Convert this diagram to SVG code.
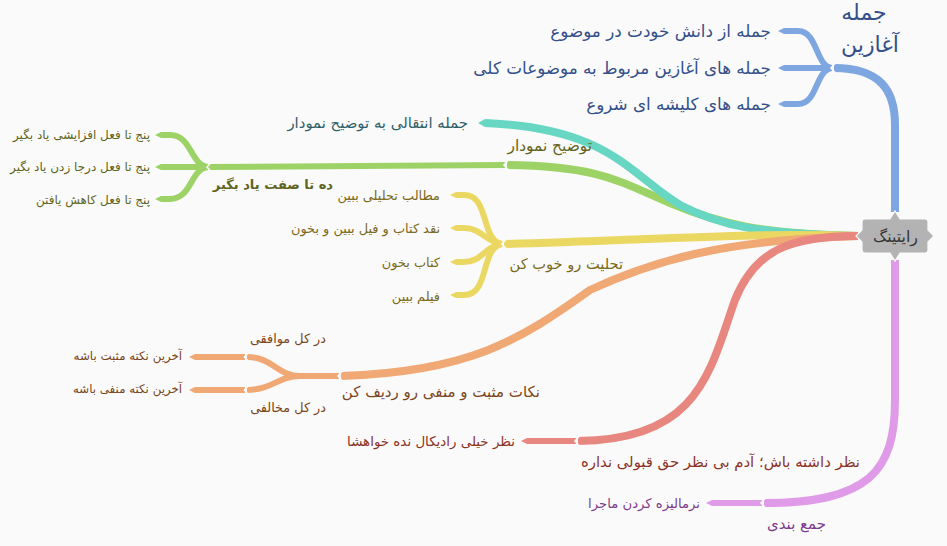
<svg xmlns="http://www.w3.org/2000/svg" width="947" height="546" viewBox="0 0 947 546">
<style>
.t{font-family:"DejaVu Sans",sans-serif}
.e{text-anchor:end}
.m{text-anchor:middle}
.br{fill:none;stroke-linecap:butt}
.w1{stroke-width:8}
.w2{stroke-width:6}
.n{fill:none;stroke:#fafafa;stroke-width:1.6}
.cb{stroke:#7ea6e0}.fb{fill:#7ea6e0}
.ct{stroke:#67d6c2}.ft{fill:#67d6c2}
.cg{stroke:#9dd366}.fg{fill:#9dd366}
.cy{stroke:#ebd862}.fy{fill:#ebd862}
.co{stroke:#f0a874}.fo{fill:#f0a874}
.cr{stroke:#e8877f}.fr{fill:#e8877f}
.cp{stroke:#e09be8}.fp{fill:#e09be8}
.tb{fill:#34508a}.tt{fill:#2e5f68}.tg{fill:#5f6420}.ty{fill:#7a6a1c}.to{fill:#7a4620}.tr{fill:#8a3226}.tp{fill:#7b3a8c}
</style>
<rect width="947" height="546" fill="#fafafa"/>
<g id="connectors">
  <!-- blue -->
  <path class="br w1 cb" d="M895 212 L895 125 C895 90 880 68 834 68"/>
  <path class="br w2 cb" d="M832 68 C815 66 818 31 798 31 L784 31"/>
  <path class="br w2 cb" d="M832 68 L784 68"/>
  <path class="br w2 cb" d="M832 68 C815 70 818 104 798 104 L784 104"/>
  <polygon class="fb" points="784,28 778,31 784,34"/>
  <polygon class="fb" points="784,65 778,68 784,71"/>
  <polygon class="fb" points="784,101 778,104 784,107"/>
  <path class="n" d="M835 63.5 L831 68 L835 72.5"/>
  <!-- green -->
  <path class="br w1 cg" d="M858 236 C760 234 720 224 670 203 C620 182 600 166 507 165"/>
  <path class="br w2 cg" d="M505 165 L208 167"/>
  <path class="br w2 cg" d="M208 167 C190 165 192 135 170 135 L161 135"/>
  <path class="br w2 cg" d="M208 167 L161 167"/>
  <path class="br w2 cg" d="M208 167 C190 169 192 199 170 199 L161 199"/>
  <polygon class="fg" points="161,132 155,135 161,138"/>
  <polygon class="fg" points="161,164 155,167 161,170"/>
  <polygon class="fg" points="161,196 155,199 161,202"/>
  <path class="n" d="M508 160.5 L504 165 L508 169.5"/>
  <path class="n" d="M211 162.5 L207 167 L211 171.5"/>
  <!-- teal -->
  <path class="br w1 ct" d="M858 236 C760 234 720 226 680 205 C630 175 610 128 485 123"/>
  <polygon class="ft" points="485,119 478,123 485,127"/>
  <!-- yellow -->
  <path class="br w1 cy" d="M858 236 C760 232 650 240 504 244"/>
  <path class="br w2 cy" d="M502 244 C480 240 490 195 464 195 L456 195"/>
  <path class="br w2 cy" d="M502 244 C485 242 482 228 464 228 L456 228"/>
  <path class="br w2 cy" d="M502 244 C485 246 482 262 464 262 L456 262"/>
  <path class="br w2 cy" d="M502 244 C480 248 490 295 464 295 L456 295"/>
  <polygon class="fy" points="456,192 450,195 456,198"/>
  <polygon class="fy" points="456,225 450,228 456,231"/>
  <polygon class="fy" points="456,259 450,262 456,265"/>
  <polygon class="fy" points="456,292 450,295 456,298"/>
  <path class="n" d="M506 239.5 L502 244 L506 248.5"/>
  <!-- orange -->
  <path class="br w1 co" d="M858 236 C720 240 650 262 590 290 C520 340 470 372 341 376"/>
  <path class="br w2 co" d="M339 376 L300 376 C278 376 272 357 247 357"/>
  <path class="br w2 co" d="M300 376 C278 376 272 390 247 390"/>
  <path class="br w2 co" d="M245 357 L195 357"/>
  <path class="br w2 co" d="M245 390 L195 390"/>
  <polygon class="fo" points="195,354 189,357 195,360"/>
  <polygon class="fo" points="195,387 189,390 195,393"/>
  <path class="n" d="M342 371.5 L338 376 L342 380.5"/>
  <path class="n" d="M248 353 L244.5 357 L248 361"/>
  <path class="n" d="M248 386 L244.5 390 L248 394"/>
  <!-- red -->
  <path class="br w1 cr" d="M858 236 C790 236 755 250 735 300 C710 370 700 440 578 441"/>
  <path class="br w2 cr" d="M576 441 L527 441"/>
  <polygon class="fr" points="527,438 521,441 527,444"/>
  <path class="n" d="M579 436.5 L575 441 L579 445.5"/>
  <!-- purple -->
  <path class="br w1 cp" d="M895 260 L895 400 C895 470 870 503 764 503"/>
  <path class="br w2 cp" d="M762 503 L712 503"/>
  <polygon class="fp" points="712,500 706,503 712,506"/>
  <path class="n" d="M765 498.5 L761 503 L765 507.5"/>
</g>
<g id="node-center">
  <path d="M862 222 Q862 219 865 219 L890 219 L895 211 L900 219 L925 219 Q928 219 928 222 L928 230 L934 236 L928 242 L928 250 Q928 253 925 253 L900 253 L895 261 L890 253 L865 253 Q862 253 862 250 L862 242 L856 236 L862 230 Z" fill="#b3b3b3" stroke="#fafafa" stroke-width="1.2"/>
  <text class="t m" x="895.5" y="241.5" font-size="15.8" fill="#333">رایتینگ</text>
</g>
<g id="node-intro"><text class="t m tb" font-size="22"><tspan x="864" y="20">جمله</tspan><tspan x="870" y="52">آغازین</tspan></text></g>
<g id="node-intro-1"><text class="t e tb" x="771" y="36.5" font-size="16.8">جمله از دانش خودت در موضوع</text></g>
<g id="node-intro-2"><text class="t e tb" x="771" y="73.5" font-size="16.8">جمله های آغازین مربوط به موضوعات کلی</text></g>
<g id="node-intro-3"><text class="t e tb" x="771" y="109.5" font-size="16.8">جمله های کلیشه ای شروع</text></g>
<g id="node-transition"><text class="t e tt" x="468" y="128" font-size="14.9">جمله انتقالی به توضیح نمودار</text></g>
<g id="node-chart"><text class="t e tg" x="592" y="151" font-size="15.4">توضیح نمودار</text></g>
<g id="node-adj"><text class="t e tg" x="333" y="189" font-size="13" font-weight="bold">ده تا صفت یاد بگیر</text></g>
<g id="node-verb-1"><text class="t e tg" x="150" y="139" font-size="12">پنج تا فعل افزایشی یاد بگیر</text></g>
<g id="node-verb-2"><text class="t e tg" x="150" y="171" font-size="12">پنج تا فعل درجا زدن یاد بگیر</text></g>
<g id="node-verb-3"><text class="t e tg" x="150" y="204" font-size="12">پنج تا فعل کاهش یافتن</text></g>
<g id="node-analysis"><text class="t e ty" x="623" y="269" font-size="14.6">تحلیت رو خوب کن</text></g>
<g id="node-an-1"><text class="t e ty" x="440" y="199.5" font-size="12.9">مطالب تحلیلی ببین</text></g>
<g id="node-an-2"><text class="t e ty" x="440" y="232.5" font-size="12.9">نقد کتاب و فیل ببین و بخون</text></g>
<g id="node-an-3"><text class="t e ty" x="440" y="266.5" font-size="12.9">کتاب بخون</text></g>
<g id="node-an-4"><text class="t e ty" x="440" y="300.5" font-size="12.9">فیلم ببین</text></g>
<g id="node-points"><text class="t e to" x="540" y="397" font-size="15">نکات مثبت و منفی رو ردیف کن</text></g>
<g id="node-agree"><text class="t e to" x="326" y="342.5" font-size="12.8">در کل موافقی</text></g>
<g id="node-disagree"><text class="t e to" x="326" y="411.5" font-size="12.8">در کل مخالفی</text></g>
<g id="node-last-pos"><text class="t e to" x="182" y="360" font-size="11.8">آخرین نکته مثبت باشه</text></g>
<g id="node-last-neg"><text class="t e to" x="182" y="393" font-size="11.8">آخرین نکته منفی باشه</text></g>
<g id="node-opinion"><text class="t e tr" x="860" y="467" font-size="14.85">نظر داشته باش؛ آدم بی نظر حق قبولی نداره</text></g>
<g id="node-radical"><text class="t e tr" x="515" y="445.5" font-size="13.4">نظر خیلی رادیکال نده خواهشا</text></g>
<g id="node-summary"><text class="t e tp" x="826" y="528.5" font-size="15">جمع بندی</text></g>
<g id="node-normalize"><text class="t e tp" x="700" y="507.5" font-size="13.2">نرمالیزه کردن ماجرا</text></g>
</svg>
